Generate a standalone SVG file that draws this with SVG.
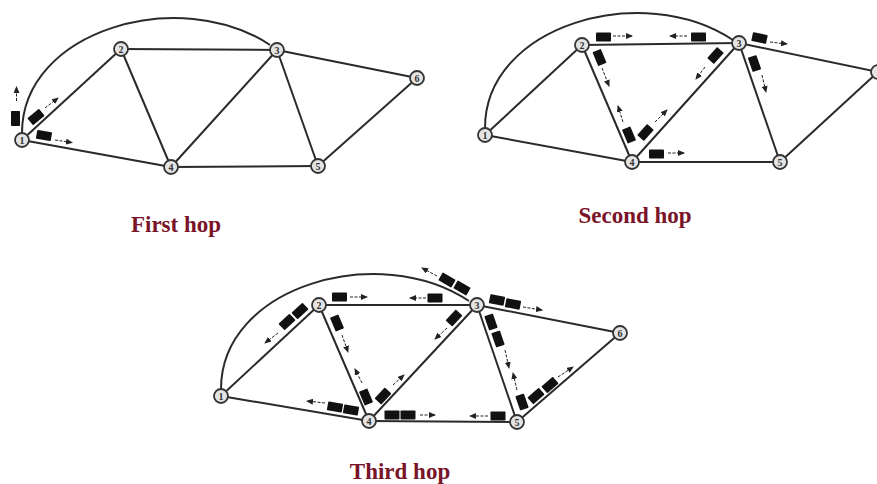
<svg xmlns="http://www.w3.org/2000/svg" xmlns:xlink="http://www.w3.org/1999/xlink" width="877" height="484" viewBox="0 0 877 484">
<style>
.e{fill:none;stroke:#2a2a2a;stroke-width:2}
.n circle{fill:#e4e4e4;stroke:#333;stroke-width:1.8}
.n text{font-family:"Liberation Serif",serif;font-size:10px;font-weight:bold;fill:#333;text-anchor:middle}
.p{fill:#111}
.a{fill:none;stroke:#222;stroke-width:1;stroke-dasharray:3 1.5;marker-end:url(#ah)}
.lbl{font-family:"Liberation Serif",serif;font-weight:bold;font-size:23px;fill:#7a1428;text-anchor:middle}
</style>
<defs>
<marker id="ah" markerUnits="userSpaceOnUse" markerWidth="7" markerHeight="6" refX="6" refY="3" orient="auto"><path d="M0,0 L7,3 L0,6 z" fill="#222"/></marker>
<rect id="pk" x="-7.5" y="-4.5" width="15" height="9" rx="0.8"/>
</defs>
<rect width="877" height="484" fill="#fff"/>

<!-- First hop -->
<g id="hop1-connectors">
<path class="e" d="M22 133 C22 30 180 -15 270 45"/>
<line class="e" x1="22" y1="140" x2="121" y2="49"/>
<line class="e" x1="22" y1="140" x2="171" y2="167"/>
<line class="e" x1="121" y1="49" x2="277" y2="50"/>
<line class="e" x1="121" y1="49" x2="171" y2="167"/>
<line class="e" x1="277" y1="50" x2="171" y2="167"/>
<line class="e" x1="277" y1="50" x2="318" y2="166"/>
<line class="e" x1="277" y1="50" x2="417" y2="78"/>
<line class="e" x1="171" y1="167" x2="318" y2="166"/>
<line class="e" x1="318" y1="166" x2="417" y2="78"/>
</g>
<g id="hop1-n1" class="n"><circle cx="22" cy="140" r="7"/><text x="22" y="143.5">1</text></g>
<g id="hop1-n2" class="n"><circle cx="121" cy="49" r="7"/><text x="121" y="52.5">2</text></g>
<g id="hop1-n3" class="n"><circle cx="277" cy="50" r="7"/><text x="277" y="53.5">3</text></g>
<g id="hop1-n4" class="n"><circle cx="171" cy="167" r="7"/><text x="171" y="170.5">4</text></g>
<g id="hop1-n5" class="n"><circle cx="318" cy="166" r="7"/><text x="318" y="169.5">5</text></g>
<g id="hop1-n6" class="n"><circle cx="417" cy="78" r="7"/><text x="417" y="81.5">6</text></g>
<g id="hop1-packets">
<use href="#pk" class="p" transform="translate(15.5,118.5) rotate(90)"/>
<line class="a" x1="16.5" y1="101" x2="16.5" y2="87"/>
<use href="#pk" class="p" transform="translate(36,117) rotate(-40)"/>
<line class="a" x1="45" y1="108" x2="58" y2="98"/>
<use href="#pk" class="p" transform="translate(44,135.5) rotate(10)"/>
<line class="a" x1="55" y1="140" x2="72" y2="142.5"/>
</g>
<text class="lbl" x="176" y="232">First hop</text>

<!-- Second hop -->
<g id="hop2-connectors">
<path class="e" d="M485 128 C485 25 643 -20 733 40"/>
<line class="e" x1="485" y1="135" x2="582" y2="45"/>
<line class="e" x1="485" y1="135" x2="632" y2="162"/>
<line class="e" x1="582" y1="45" x2="739" y2="43"/>
<line class="e" x1="582" y1="45" x2="632" y2="162"/>
<line class="e" x1="739" y1="43" x2="632" y2="162"/>
<line class="e" x1="739" y1="43" x2="780" y2="162"/>
<line class="e" x1="739" y1="43" x2="878" y2="72"/>
<line class="e" x1="632" y1="162" x2="780" y2="162"/>
<line class="e" x1="780" y1="162" x2="878" y2="72"/>
</g>
<g id="hop2-n1" class="n"><circle cx="485" cy="135" r="7"/><text x="485" y="138.5">1</text></g>
<g id="hop2-n2" class="n"><circle cx="582" cy="45" r="7"/><text x="582" y="48.5">2</text></g>
<g id="hop2-n3" class="n"><circle cx="739" cy="43" r="7"/><text x="739" y="46.5">3</text></g>
<g id="hop2-n4" class="n"><circle cx="632" cy="162" r="7"/><text x="632" y="165.5">4</text></g>
<g id="hop2-n5" class="n"><circle cx="780" cy="162" r="7"/><text x="780" y="165.5">5</text></g>
<g id="hop2-n6" class="n"><circle cx="878" cy="72" r="7"/></g>
<g id="hop2-packets">
<use href="#pk" class="p" transform="translate(603.5,37)"/>
<line class="a" x1="613" y1="36" x2="632" y2="36"/>
<use href="#pk" class="p" transform="translate(698.5,37)"/>
<line class="a" x1="687" y1="36" x2="670" y2="36"/>
<use href="#pk" class="p" transform="translate(759.5,38) rotate(12)"/>
<line class="a" x1="770" y1="42" x2="787" y2="44"/>
<use href="#pk" class="p" transform="translate(754.5,63.5) rotate(71)"/>
<line class="a" x1="762" y1="75" x2="766" y2="92"/>
<use href="#pk" class="p" transform="translate(715.5,55.5) rotate(-48)"/>
<line class="a" x1="705" y1="67" x2="696" y2="79"/>
<use href="#pk" class="p" transform="translate(599.5,57.5) rotate(67)"/>
<line class="a" x1="602" y1="68" x2="609" y2="86"/>
<use href="#pk" class="p" transform="translate(629,135) rotate(67)"/>
<line class="a" x1="623" y1="122" x2="618" y2="106"/>
<use href="#pk" class="p" transform="translate(645.5,132.5) rotate(-48)"/>
<line class="a" x1="655" y1="122" x2="667" y2="110"/>
<use href="#pk" class="p" transform="translate(656.5,154)"/>
<line class="a" x1="668" y1="153" x2="684" y2="153"/>
</g>
<text class="lbl" x="635" y="223">Second hop</text>

<!-- Third hop -->
<g id="hop3-connectors">
<path class="e" d="M221 389 C221 286 379 241 469 301"/>
<line class="e" x1="221" y1="396" x2="319" y2="305"/>
<line class="e" x1="221" y1="396" x2="369" y2="421"/>
<line class="e" x1="319" y1="305" x2="477" y2="305"/>
<line class="e" x1="319" y1="305" x2="369" y2="421"/>
<line class="e" x1="477" y1="305" x2="369" y2="421"/>
<line class="e" x1="477" y1="305" x2="517" y2="422"/>
<line class="e" x1="477" y1="305" x2="620" y2="333"/>
<line class="e" x1="369" y1="421" x2="517" y2="422"/>
<line class="e" x1="517" y1="422" x2="620" y2="333"/>
</g>
<g id="hop3-n1" class="n"><circle cx="221" cy="396" r="7"/><text x="221" y="399.5">1</text></g>
<g id="hop3-n2" class="n"><circle cx="319" cy="305" r="7"/><text x="319" y="308.5">2</text></g>
<g id="hop3-n3" class="n"><circle cx="477" cy="305" r="7"/><text x="477" y="308.5">3</text></g>
<g id="hop3-n4" class="n"><circle cx="369" cy="421" r="7"/><text x="369" y="424.5">4</text></g>
<g id="hop3-n5" class="n"><circle cx="517" cy="422" r="7"/><text x="517" y="425.5">5</text></g>
<g id="hop3-n6" class="n"><circle cx="620" cy="333" r="7"/><text x="620" y="336.5">6</text></g>
<g id="hop3-packets">
<use href="#pk" class="p" transform="translate(339.5,297)"/>
<line class="a" x1="350" y1="297" x2="367" y2="297"/>
<use href="#pk" class="p" transform="translate(435,298)"/>
<line class="a" x1="426" y1="298" x2="410" y2="298"/>
<use href="#pk" class="p" transform="translate(287,322) rotate(-43)"/>
<use href="#pk" class="p" transform="translate(300,311) rotate(-43)"/>
<line class="a" x1="278" y1="333" x2="265" y2="343"/>
<use href="#pk" class="p" transform="translate(337,323) rotate(67)"/>
<line class="a" x1="342" y1="335" x2="348" y2="352"/>
<use href="#pk" class="p" transform="translate(366,397) rotate(67)"/>
<line class="a" x1="362" y1="383" x2="355" y2="369"/>
<use href="#pk" class="p" transform="translate(383,396) rotate(-47)"/>
<line class="a" x1="393" y1="385" x2="404" y2="375"/>
<use href="#pk" class="p" transform="translate(335,407) rotate(10)"/>
<use href="#pk" class="p" transform="translate(351,410) rotate(10)"/>
<line class="a" x1="325" y1="403" x2="307" y2="401"/>
<use href="#pk" class="p" transform="translate(392,415)"/>
<use href="#pk" class="p" transform="translate(408,415)"/>
<line class="a" x1="420" y1="415" x2="435" y2="415"/>
<use href="#pk" class="p" transform="translate(498,416)"/>
<line class="a" x1="488" y1="416" x2="470" y2="416"/>
<use href="#pk" class="p" transform="translate(447,280) rotate(30)"/>
<use href="#pk" class="p" transform="translate(462,288) rotate(30)"/>
<line class="a" x1="437" y1="276" x2="422" y2="268"/>
<use href="#pk" class="p" transform="translate(454,318) rotate(-47)"/>
<line class="a" x1="447" y1="328" x2="435" y2="339"/>
<use href="#pk" class="p" transform="translate(497,300) rotate(11)"/>
<use href="#pk" class="p" transform="translate(513,304) rotate(11)"/>
<line class="a" x1="523" y1="307" x2="542" y2="310"/>
<use href="#pk" class="p" transform="translate(491,322) rotate(71)"/>
<use href="#pk" class="p" transform="translate(498,339) rotate(71)"/>
<line class="a" x1="505" y1="350" x2="509" y2="368"/>
<use href="#pk" class="p" transform="translate(522,402) rotate(71)"/>
<line class="a" x1="517" y1="390" x2="513" y2="373"/>
<use href="#pk" class="p" transform="translate(536,396) rotate(-41)"/>
<use href="#pk" class="p" transform="translate(550,385) rotate(-41)"/>
<line class="a" x1="558" y1="377" x2="573" y2="367"/>
</g>
<text class="lbl" x="400" y="479">Third hop</text>
</svg>
